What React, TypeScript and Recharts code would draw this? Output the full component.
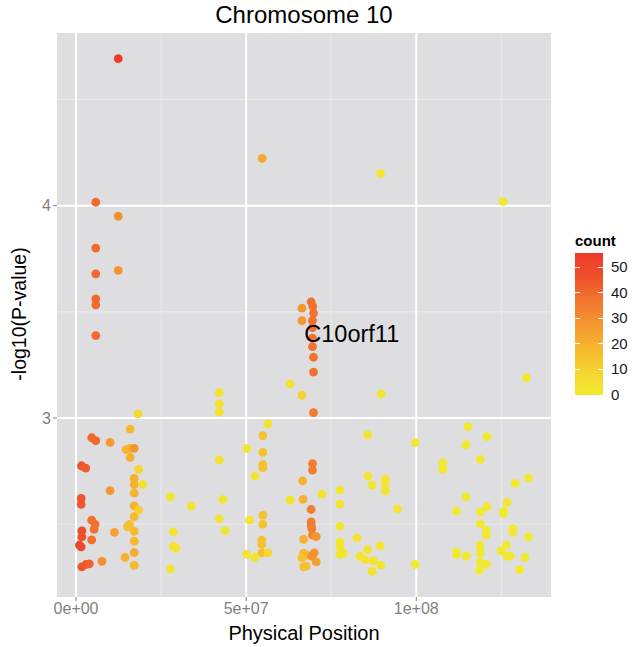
import React from 'react';
import { ScatterChart, Scatter, XAxis, YAxis, ReferenceArea, ReferenceLine } from 'recharts';

// physical position (Mb), -log10(P), count — one entry per SNP
const POSITION_MB = [
  1.6, 2.85, 1.5, 1.5, 1.7, 1.7, 1.0, 1.5, 1.7, 2.9, 3.9,
  4.6, 5.8, 4.6, 5.6, 5.3, 4.6, 5.8, 5.8, 5.8, 5.8, 5.8, 5.8,
  7.6, 10.0, 10.0, 11.3, 12.4, 12.4, 12.4,
  15.9, 14.7, 15.9, 17.1, 15.9, 17.1, 17.1, 17.1, 17.1, 17.1, 15.7, 15.1, 17.1, 17.1, 17.1, 14.4, 17.1,
  18.2, 18.4, 19.6, 18.4,
  27.7, 28.6, 28.6, 29.4, 27.7, 33.9,
  42.1, 42.1, 42.1, 42.1, 43.2, 42.1, 43.8,
  54.7, 56.4, 54.9, 50.2, 54.9, 54.9, 54.9, 52.6, 51.0, 54.9, 54.9, 54.6, 54.6, 54.6, 56.4, 50.2, 52.6,
  62.9, 66.4, 66.4, 66.4, 69.1, 69.6, 69.8, 69.5, 69.5, 69.5, 69.5, 69.8, 69.8, 69.8, 69.5, 69.5,
  66.6, 62.9, 66.7, 72.3, 69.1, 69.1, 69.1, 69.3, 69.5, 70.6, 66.9, 66.9, 67.8, 70.0, 69.3, 66.4, 70.6, 66.9, 67.6,
  77.6, 77.6, 77.6, 77.6, 77.6, 77.6, 78.6, 82.6, 85.7, 85.8, 87.0, 85.7, 89.4, 83.5, 85.0, 87.4, 89.6, 87.0,
  89.5, 89.7, 90.9, 90.9, 90.9, 94.5,
  99.7, 99.7, 107.8, 107.8, 115.2, 120.8, 114.6, 118.8, 129.1, 133.0, 114.6, 111.8, 118.8, 120.8, 126.7,
  125.7, 125.7, 118.8, 120.6, 120.6, 128.4, 128.4, 133.0, 118.8, 118.8, 118.8, 120.6, 118.6, 111.8, 111.8,
  114.7, 126.5, 124.9, 126.7, 127.6, 131.9, 130.4, 125.5, 132.4,
];

const LOG_P = [
  2.775, 2.764, 2.621, 2.593, 2.468, 2.44, 2.401, 2.393, 2.299, 2.31, 2.313,
  2.907, 2.893, 2.519, 2.499, 2.475, 2.426, 4.016, 3.8, 3.679, 3.561, 3.533, 3.388,
  2.325, 2.885, 2.658, 2.461, 4.692, 3.95, 3.695,
  2.948, 2.851, 2.857, 2.857, 2.814, 2.716, 2.686, 2.646, 2.586, 2.535, 2.499, 2.488, 2.466, 2.42, 2.366, 2.343, 2.306,
  3.019, 2.758, 2.687, 2.566,
  2.629, 2.464, 2.395, 2.387, 2.289, 2.585,
  3.119, 3.066, 3.028, 2.803, 2.617, 2.525, 2.47,
  4.223, 2.972, 2.917, 2.857, 2.838, 2.781, 2.766, 2.726, 2.519, 2.542, 2.5, 2.425, 2.406, 2.365, 2.365, 2.358, 2.343,
  3.16, 3.107, 3.517, 3.458, 3.547, 3.525, 3.494, 3.458, 3.426, 3.376, 3.336, 3.286, 3.216, 3.025, 2.785, 2.755,
  2.704, 2.613, 2.617, 2.641, 2.569, 2.511, 2.495, 2.479, 2.448, 2.441, 2.428, 2.362, 2.354, 2.365, 2.349, 2.341, 2.322, 2.299, 2.302,
  2.66, 2.594, 2.491, 2.417, 2.393, 2.358, 2.362, 2.435, 2.921, 2.726, 2.684, 2.38, 2.398, 2.349, 2.333, 2.327, 2.307, 2.278,
  4.151, 3.113, 2.712, 2.689, 2.657, 2.572,
  2.884, 2.311, 2.789, 2.758, 2.959, 2.912, 2.873, 2.805, 2.692, 2.718, 2.629, 2.561, 2.558, 2.582, 2.602,
  2.561, 2.55, 2.503, 2.472, 2.448, 2.479, 2.461, 2.44, 2.401, 2.365, 2.322, 2.311, 2.283, 2.369, 2.358,
  2.35, 2.401, 2.374, 2.349, 2.349, 2.343, 2.286, 4.019, 3.189,
];

const COUNT = [
  45, 43, 45, 45, 47, 47, 50, 50, 45, 44, 42,
  40, 40, 38, 38, 38, 39, 40, 40, 40, 40, 40, 40,
  30, 27, 28, 25, 55, 30, 28,
  18, 20, 20, 28, 20, 20, 20, 20, 20, 18, 15, 15, 18, 18, 22, 20, 18,
  8, 8, 5, 10,
  2, 2, 2, 2, 2, 2,
  3, 3, 3, 3, 2, 2, 2,
  22, 3, 15, 2, 15, 15, 15, 2, 2, 15, 15, 15, 15, 15, 8, 2, 2,
  3, 10, 28, 28, 38, 38, 38, 38, 38, 38, 38, 38, 38, 36, 35, 35,
  20, 3, 20, 3, 35, 35, 35, 35, 33, 28, 20, 18, 18, 28, 30, 15, 25, 15, 15,
  2, 2, 2, 2, 2, 2, 2, 2, 2, 2, 2, 2, 2, 2, 2, 2, 2, 2,
  2, 2, 2, 2, 2, 2,
  1, 0, 1, 1, 1, 1, 1, 1, 1, 1, 1, 1, 1, 1, 1,
  1, 1, 1, 1, 1, 1, 1, 1, 1, 1, 1, 1, 0, 1, 1,
  1, 1, 1, 1, 1, 1, 0, 1, 1,
];

const X_TICKS = [0, 5e7, 1e8];
const X_MINOR = [2.5e7, 7.5e7, 1.25e8];
const Y_TICKS = [3, 4];
const Y_MINOR = [2.5, 3.5, 4.5];
const COUNT_BREAKS = [0, 10, 20, 30, 40, 50];
const GENE = { name: 'C10orf11', position: 67.1e6, logP: 3.396 };

const X_DOMAIN = [-5.6e6, 139.6e6];
const Y_DOMAIN = [2.157, 4.813];

const FONT = '"Liberation Sans", Arial, Helvetica, sans-serif';
const PANEL = '#DEDEE0';

// yellow -> red, sampled from the colour bar
const RAMP = ['#F2EA2F', '#F5D42F', '#F6B62F', '#F4972F', '#F1762E', '#EF502B', '#EE3A28'];

const countMin = Math.min(...COUNT);
const countMax = Math.max(...COUNT) + 0.5;

const hexToRgb = (h: string) => [1, 3, 5].map((i) => parseInt(h.slice(i, i + 2), 16));

const colourFor = (c: number) => {
  const t = Math.max(0, Math.min(1, (c - countMin) / (countMax - countMin))) * (RAMP.length - 1);
  const i = Math.min(RAMP.length - 2, Math.floor(t));
  const f = t - i;
  const a = hexToRgb(RAMP[i]);
  const b = hexToRgb(RAMP[i + 1]);
  const rgb = a.map((v, k) => Math.round(v + (b[k] - v) * f));
  return `rgb(${rgb.join(',')})`;
};

const points = POSITION_MB.map((p, i) => ({
  x: p * 1e6,
  y: LOG_P[i],
  count: COUNT[i],
  fill: colourFor(COUNT[i]),
}));

const sci = (v: number) => {
  if (v === 0) return '0e+00';
  const e = Math.floor(Math.log10(v));
  const m = Math.round(v / Math.pow(10, e));
  return `${m}e+${String(e).padStart(2, '0')}`;
};

const BAR = { left: 575, top: 253, width: 28, height: 142 };

const ColourBar = () => {
  const yFor = (c: number) => BAR.top + BAR.height * (1 - (c - countMin) / (countMax - countMin));
  const gradient = `linear-gradient(to top, ${RAMP.join(', ')})`;
  return (
    <>
      <div
        style={{
          position: 'absolute', left: BAR.left, top: BAR.top - 21, fontFamily: FONT,
          fontWeight: 'bold', fontSize: 15, lineHeight: '18px', color: '#000',
        }}
      >
        count
      </div>
      <div
        style={{
          position: 'absolute', left: BAR.left, top: BAR.top, width: BAR.width,
          height: BAR.height, background: gradient,
        }}
      />
      {COUNT_BREAKS.map((b) => (
        <React.Fragment key={b}>
          <div style={{ position: 'absolute', left: BAR.left, top: yFor(b) - 0.5, width: 5, height: 1, background: '#fff' }} />
          <div style={{ position: 'absolute', left: BAR.left + BAR.width - 5, top: yFor(b) - 0.5, width: 5, height: 1, background: '#fff' }} />
          <div
            style={{
              position: 'absolute', left: BAR.left + BAR.width + 8, top: yFor(b) - 9,
              fontFamily: FONT, fontSize: 15, lineHeight: '18px', color: '#1a1a1a',
            }}
          >
            {b}
          </div>
        </React.Fragment>
      ))}
    </>
  );
};

export default function App() {
  return (
    <div style={{ position: 'absolute', left: 0, top: 0, width: 638, height: 647, background: '#fff' }}>
      <ScatterChart width={638} height={647} margin={{ top: 33, right: 87, bottom: 0, left: 0 }}>
        <XAxis
          type="number"
          dataKey="x"
          domain={X_DOMAIN}
          allowDataOverflow
          ticks={X_TICKS}
          tickFormatter={sci}
          height={50}
          axisLine={false}
          tickSize={4}
          tickLine={{ stroke: '#7F7F7F' }}
          tick={{ fill: '#7F7F7F', fontSize: 16, fontFamily: FONT }}
        />
        <YAxis
          type="number"
          dataKey="y"
          domain={Y_DOMAIN}
          allowDataOverflow
          ticks={Y_TICKS}
          width={57}
          axisLine={false}
          tickSize={4}
          tickLine={{ stroke: '#7F7F7F' }}
          tick={{ fill: '#7F7F7F', fontSize: 16, fontFamily: FONT }}
        />
        <ReferenceArea
          x1={X_DOMAIN[0]}
          x2={X_DOMAIN[1]}
          y1={Y_DOMAIN[0]}
          y2={Y_DOMAIN[1]}
          fill={PANEL}
          fillOpacity={1}
          stroke="none"
        />
        {X_MINOR.map((v) => (
          <ReferenceLine key={`xm${v}`} x={v} stroke="#ECECEE" strokeWidth={1} />
        ))}
        {Y_MINOR.map((v) => (
          <ReferenceLine key={`ym${v}`} y={v} stroke="#ECECEE" strokeWidth={1} />
        ))}
        {X_TICKS.map((v) => (
          <ReferenceLine key={`x${v}`} x={v} stroke="#fff" strokeWidth={2} />
        ))}
        {Y_TICKS.map((v) => (
          <ReferenceLine key={`y${v}`} y={v} stroke="#fff" strokeWidth={2} />
        ))}
        <Scatter
          data={points}
          isAnimationActive={false}
          shape={(p: any) => <circle cx={p.cx} cy={p.cy} r={4.4} fill={p.payload.fill} />}
        />
        <Scatter
          data={[{ x: GENE.position, y: GENE.logP, name: GENE.name }]}
          isAnimationActive={false}
          shape={(p: any) => (
            <text x={p.cx} y={p.cy} dominantBaseline="central" fontSize={23.5} fontFamily={FONT} fill="#000">
              {p.payload.name}
            </text>
          )}
        />
      </ScatterChart>

      <div
        style={{
          position: 'absolute', left: 0, top: 1, width: 608, textAlign: 'center',
          fontFamily: FONT, fontSize: 24, lineHeight: '28px', color: '#000',
        }}
      >
        Chromosome 10
      </div>
      <div
        style={{
          position: 'absolute', left: 0, top: 622, width: 608, textAlign: 'center',
          fontFamily: FONT, fontSize: 20, lineHeight: '22px', color: '#000',
        }}
      >
        Physical Position
      </div>
      <div
        style={{
          position: 'absolute', left: 19, top: 314, transform: 'translate(-50%, -50%) rotate(-90deg)',
          whiteSpace: 'nowrap', fontFamily: FONT, fontSize: 19.5, lineHeight: '22px', color: '#000',
        }}
      >
        -log10(P-value)
      </div>
      <ColourBar />
    </div>
  );
}
